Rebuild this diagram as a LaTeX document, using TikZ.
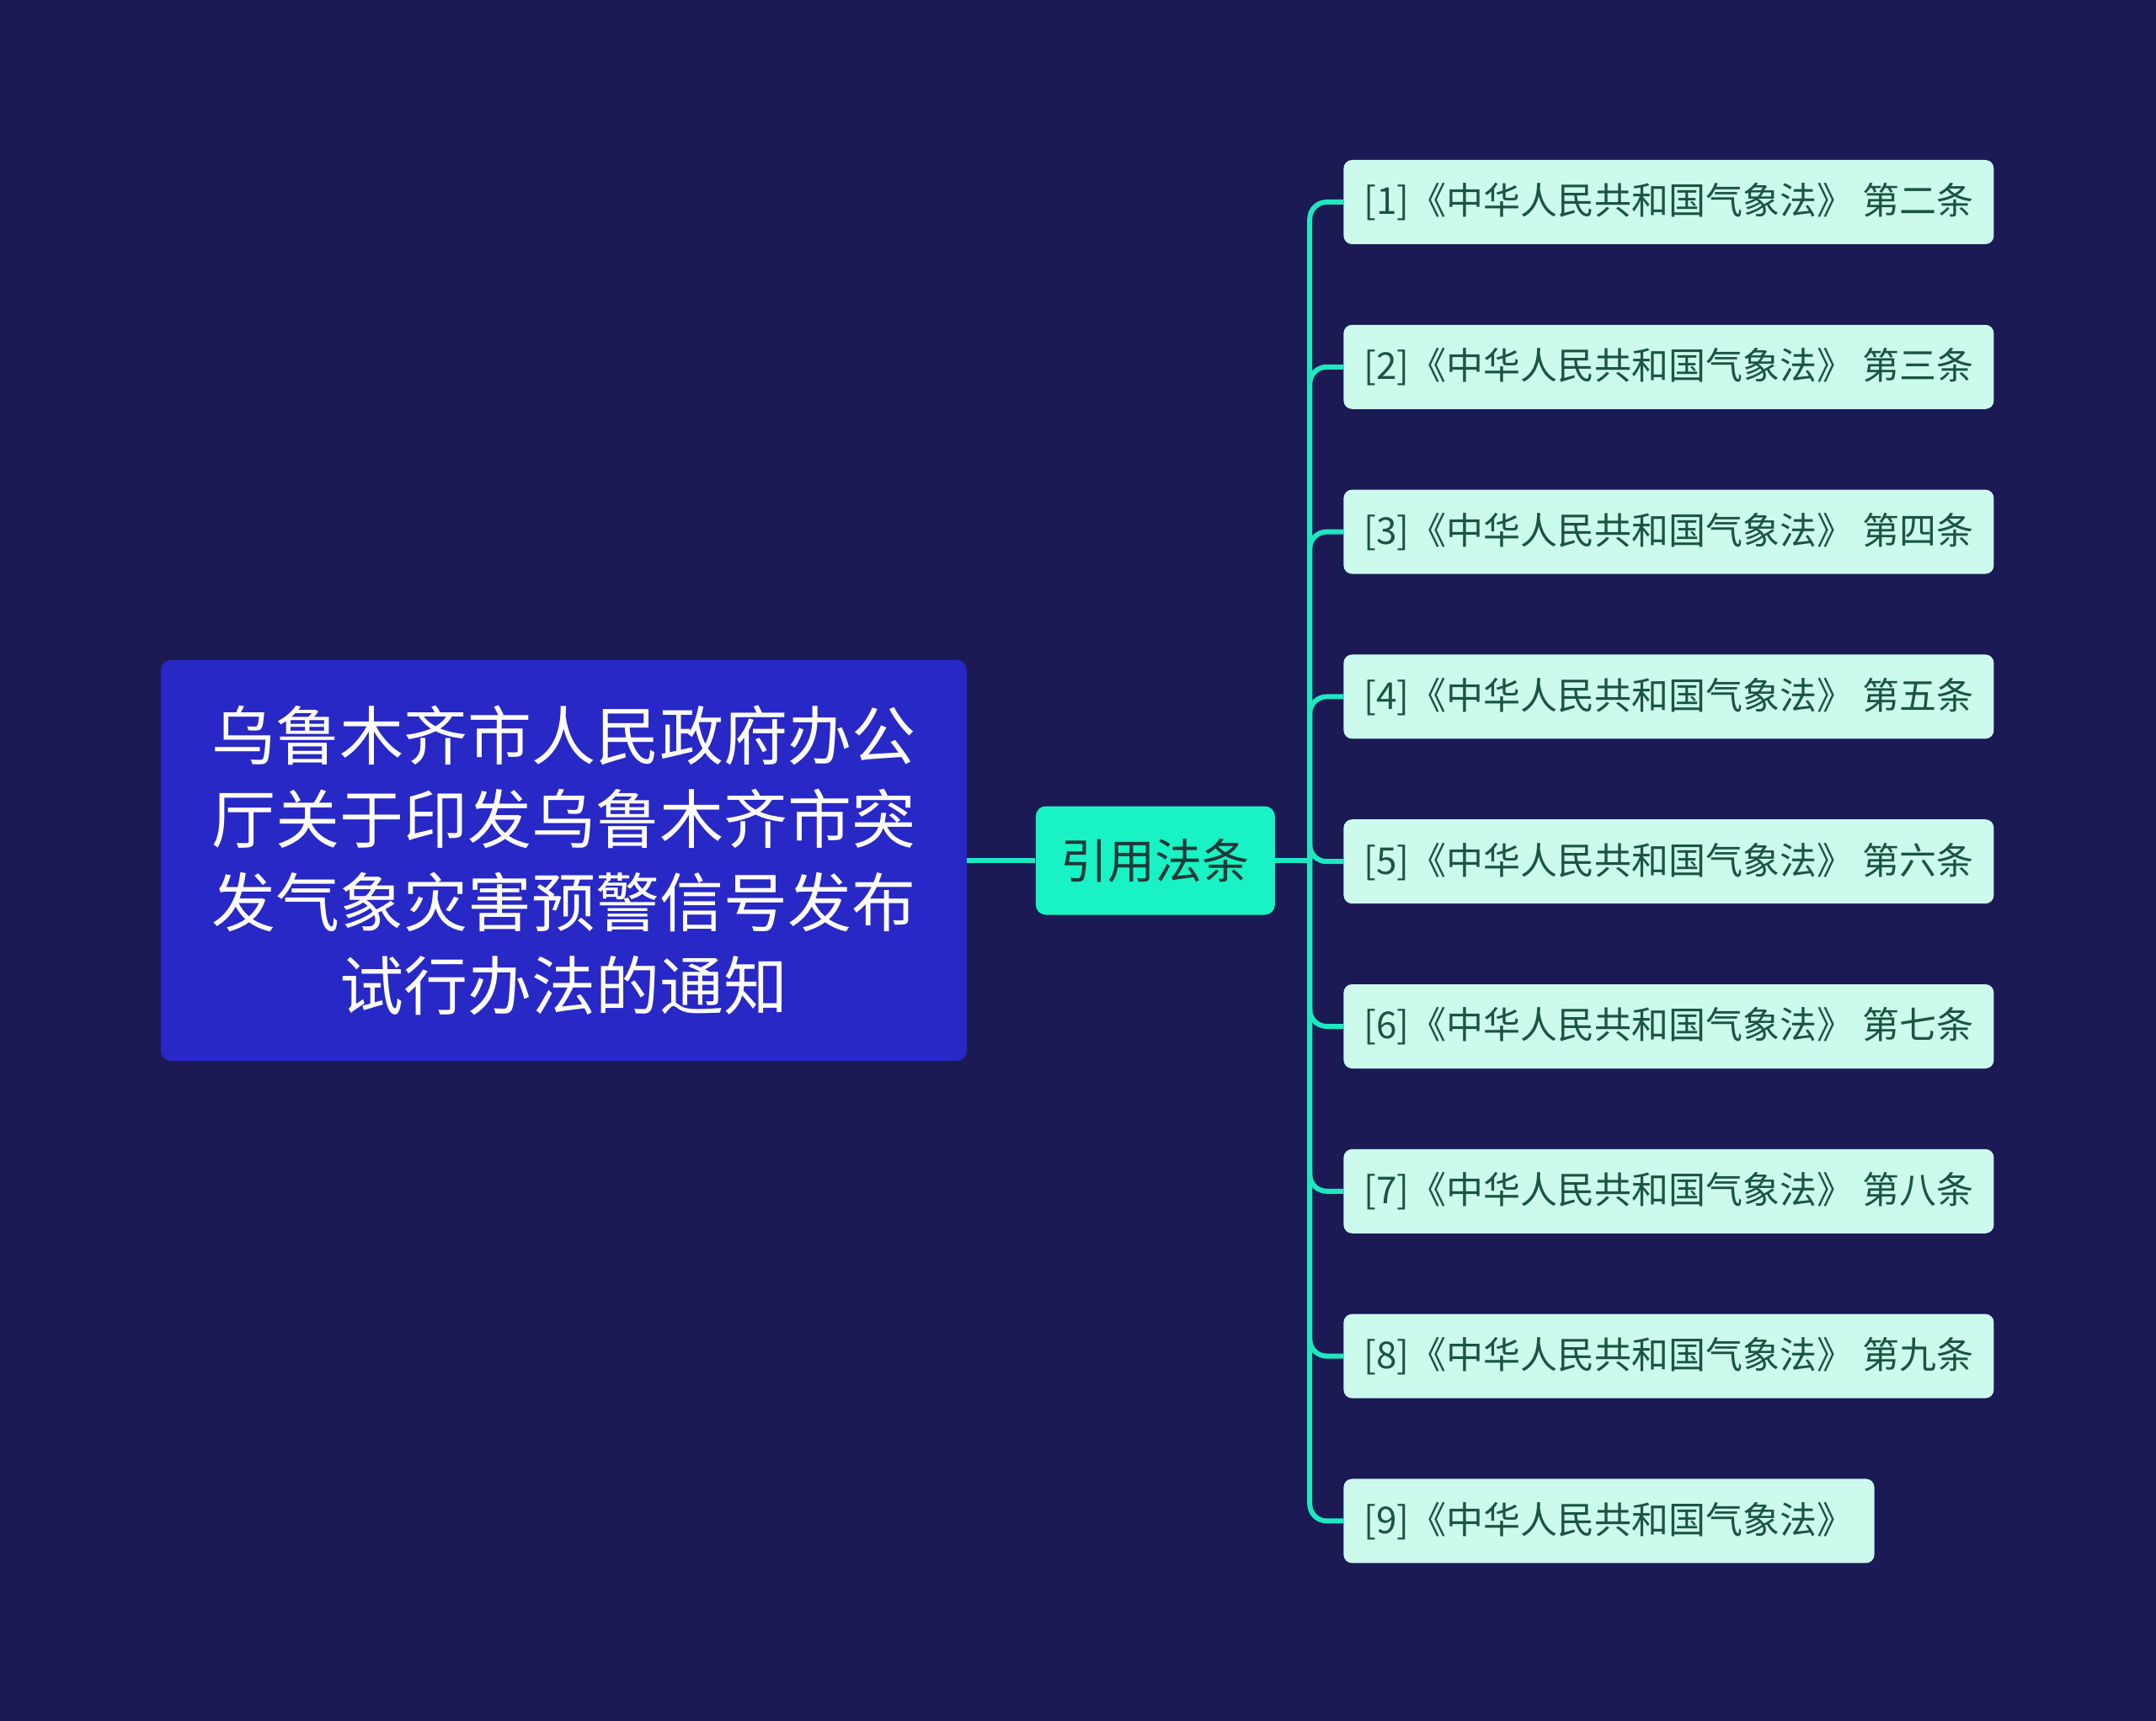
\documentclass[tikz,border=0pt]{standalone}
\usepackage{fontspec}
\setmainfont{Noto Sans CJK SC}
\usetikzlibrary{positioning}
\definecolor{mapbg}{HTML}{1B1A54}
\definecolor{rootblue}{HTML}{2828C6}
\definecolor{aqua}{HTML}{18F2C4}
\definecolor{aqualine}{HTML}{1EE8C0}
\definecolor{mint}{HTML}{CCFBEE}
\definecolor{leaftext}{HTML}{1B5443}
\definecolor{midtext}{HTML}{1F3838}

\begin{document}
\begin{tikzpicture}[
  root/.style={fill=rootblue, rounded corners=6pt, align=center, text=white,
               font=\fontsize{38}{49.5}\selectfont,
               minimum width=478.5pt, minimum height=238pt},
  branch/.style={fill=aqua, rounded corners=6pt, text=midtext,
                 font=\fontsize{28}{32}\selectfont,
                 minimum width=142pt, minimum height=64.5pt},
  leaf/.style={fill=mint, rounded corners=5pt, text=leaftext,
               font=\fontsize{22}{26}\selectfont, inner xsep=12pt,
               minimum height=50pt},
  link/.style={draw=aqualine, line width=3pt, rounded corners=10pt},
]

%% ---- fondo ----
\fill[mapbg] (0,0) rectangle (1280pt,-1022pt);

%% ---- nodo central y rama ----
\node[root] (root) at (334.75pt,-511pt)
  {乌鲁木齐市人民政府办公\\厅关于印发乌鲁木齐市突\\发气象灾害预警信号发布\\试行办法的通知};
\node[branch, right=40.5pt of root] (cite) {引用法条};

%% ---- hojas ----
\node[leaf, anchor=west] (l1) at (797.5pt,-120pt) {[1]《中华人民共和国气象法》 第二条};
\node[leaf, below=47.5pt of l1.south west, anchor=north west] (l2) {[2]《中华人民共和国气象法》 第三条};
\node[leaf, below=47.5pt of l2.south west, anchor=north west] (l3) {[3]《中华人民共和国气象法》 第四条};
\node[leaf, below=47.5pt of l3.south west, anchor=north west] (l4) {[4]《中华人民共和国气象法》 第五条};
\node[leaf, below=47.5pt of l4.south west, anchor=north west] (l5) {[5]《中华人民共和国气象法》 第六条};
\node[leaf, below=47.5pt of l5.south west, anchor=north west] (l6) {[6]《中华人民共和国气象法》 第七条};
\node[leaf, below=47.5pt of l6.south west, anchor=north west] (l7) {[7]《中华人民共和国气象法》 第八条};
\node[leaf, below=47.5pt of l7.south west, anchor=north west] (l8) {[8]《中华人民共和国气象法》 第九条};
\node[leaf, below=47.5pt of l8.south west, anchor=north west] (l9) {[9]《中华人民共和国气象法》};

%% ---- conectores ----
\coordinate[right=20.5pt of cite.east] (trunk);
\draw[link] (root.east) -- (cite.west);
\draw[link] (cite.east) -- (trunk);
\draw[link] (trunk) |- (l1.west);
\draw[link] (trunk) |- (l2.west);
\draw[link] (trunk) |- (l3.west);
\draw[link] (trunk) |- (l4.west);
\draw[link] (trunk) |- (l5.west);
\draw[link] (trunk) |- (l6.west);
\draw[link] (trunk) |- (l7.west);
\draw[link] (trunk) |- (l8.west);
\draw[link] (trunk) |- (l9.west);

\end{tikzpicture}
\end{document}
